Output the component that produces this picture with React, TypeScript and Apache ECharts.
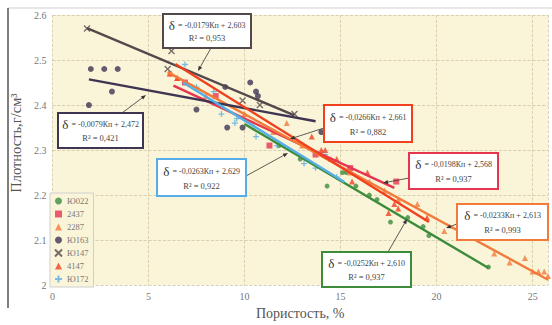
import React, { useEffect, useRef } from "react";
import * as echarts from "echarts";

// ---- data ----
const seriesNames = ["Ю022", "2437", "2287", "Ю163", "Ю147", "4147", "Ю172"];
const seriesColors = ["#3c8c3c", "#e8354f", "#f27a3a", "#3d3552", "#54484a", "#f0401e", "#55aee6"];

const pts022 = [[11.8,2.31],[12.9,2.28],[14.3,2.22],[15.1,2.25],[15.3,2.25],[15.8,2.22],[16.5,2.20],[16.9,2.19],[17.6,2.14],[18.5,2.15],[19.3,2.13],[19.6,2.11],[22.7,2.04]];
const pts2437 = [[6.9,2.45],[8.5,2.42],[11.3,2.31],[13.7,2.29],[15.5,2.26],[17.9,2.23]];
const pts2287 = [[6.2,2.47],[6.5,2.46],[8.0,2.42],[10.0,2.38],[11.5,2.34],[12.2,2.36],[13.0,2.31],[14.5,2.28],[15.5,2.25],[16.5,2.23],[17.3,2.21],[18.0,2.19],[19.0,2.18],[20.4,2.12],[21.5,2.11],[23.0,2.07],[23.8,2.05],[24.6,2.06],[25.0,2.03],[25.3,2.03],[25.6,2.03],[25.8,2.02]];
const pts163 = [[2.0,2.48],[2.7,2.48],[3.4,2.48],[3.1,2.43],[1.9,2.40],[7.5,2.39],[9.0,2.44],[10.3,2.45],[10.6,2.43],[10.7,2.42],[9.1,2.35],[9.9,2.35],[14.0,2.34]];
const pts147 = [[1.8,2.57],[6.2,2.52],[6.0,2.48],[9.9,2.41],[10.8,2.40],[12.6,2.38]];
const pts4147 = [[6.1,2.47],[6.5,2.46],[13.5,2.33],[14.0,2.30],[14.2,2.30],[14.8,2.28],[15.6,2.23],[16.4,2.25],[17.5,2.16],[17.8,2.18],[18.0,2.17],[19.5,2.15]];
const pts172 = [[6.9,2.49],[7.5,2.44],[8.4,2.43],[8.8,2.38],[9.5,2.36],[9.6,2.37],[10.6,2.33],[11.7,2.31],[13.1,2.27],[13.7,2.26],[14.2,2.29],[14.8,2.24]];
const seriesPoints = [pts022, pts2437, pts2287, pts163, pts147, pts4147, pts172];

// trend line end points
const trend022 = [[10.0,2.358],[22.7,2.038]];
const trend2437 = [[6.3,2.443],[17.8,2.216]];
const trend2287 = [[6.0,2.473],[25.8,2.012]];
const trend163 = [[1.9,2.457],[13.7,2.364]];
const trend147 = [[1.8,2.571],[12.6,2.377]];
const trend4147 = [[6.4,2.491],[19.6,2.140]];
const trend172 = [[6.8,2.450],[15.2,2.229]];
const trendLines = [trend022, trend2437, trend2287, trend163, trend147, trend4147, trend172];

const equations = [
  "= -0,0252Кп + 2,610", "= -0,0198Кп + 2,568", "= -0,0233Кп + 2,613",
  "= -0,0079Кп + 2,472", "= -0,0179Кп + 2,603", "= -0,0266Кп + 2,661", "= -0,0263Кп + 2,629",
];
const r2Labels = ["0,937", "0,937", "0,993", "0,421", "0,953", "0,882", "0,922"];

const xTicks = [0, 5, 10, 15, 20, 25];
const yTicks = [2, 2.1, 2.2, 2.3, 2.4, 2.5, 2.6];

// ---- layout of annotation boxes (pixels) ----
const boxes = [
  { i: 0, x: 322, y: 252, w: 89, h: 35, ax1: [388, 252], ax2: [407, 219] },
  { i: 1, x: 409, y: 153, w: 89, h: 36, ax1: [409, 178], ax2: [383, 183] },
  { i: 2, x: 457, y: 204, w: 91, h: 36, ax1: [457, 224], ax2: [446, 228] },
  { i: 3, x: 58, y: 113, w: 85, h: 35, ax1: [122, 113], ax2: [146, 95] },
  { i: 4, x: 163, y: 14, w: 88, h: 34, ax1: [211, 48], ax2: [198, 71] },
  { i: 5, x: 324, y: 105, w: 88, h: 37, ax1: [324, 128], ax2: [290, 139] },
  { i: 6, x: 157, y: 159, w: 89, h: 37, ax1: [246, 176], ax2: [288, 153] },
];

const SERIF = "'Liberation Serif', 'DejaVu Serif', serif";
const symbols = ["circle", "rect", "triangle", "circle", "path://M0,0L10,10M10,0L0,10", "triangle", "path://M5,0L5,10M0,5L10,5"];
const sizes = [5, 6, 6, 6, 6, 6, 6];

export default function App() {
  const ref = useRef<HTMLDivElement>(null);
  useEffect(() => {
    document.body.style.margin = "0";
    const chart = echarts.init(ref.current!, null, { renderer: "svg" });
    const scatter = seriesNames.map((name, k) => {
      const isStroke = k === 4 || k === 6;
      return {
        name,
        type: "scatter",
        data: seriesPoints[k],
        symbol: symbols[k],
        symbolSize: sizes[k],
        z: 3,
        itemStyle: isStroke
          ? { color: "transparent", borderColor: seriesColors[k], borderWidth: 1.3 }
          : { color: seriesColors[k] },
      };
    });
    const lines = trendLines.map((d, k) => ({
      name: seriesNames[k] + " trend",
      type: "line",
      data: d,
      showSymbol: false,
      z: 4,
      lineStyle: { color: seriesColors[k], width: 2.4 },
      silent: true,
    }));
    const graphics: any[] = [
      { type: "line", shape: { x1: 8, y1: 8, x2: 552, y2: 8 }, style: { stroke: "#cfcfcf", lineWidth: 1 } },
      { type: "line", shape: { x1: 8, y1: 8, x2: 8, y2: 308 }, style: { stroke: "#555", lineWidth: 1.5 } },
    ];
    boxes.forEach((b) => {
      const c = seriesColors[b.i];
      const dx = b.ax2[0] - b.ax1[0];
      const dy = b.ax2[1] - b.ax1[1];
      const len = Math.sqrt(dx * dx + dy * dy);
      const ux = dx / len, uy = dy / len;
      const hx = b.ax2[0] - ux * 5, hy = b.ax2[1] - uy * 5;
      graphics.push({
        type: "line", z: 10,
        shape: { x1: b.ax1[0], y1: b.ax1[1], x2: hx, y2: hy },
        style: { stroke: "#333", lineWidth: 0.8 },
      });
      graphics.push({
        type: "polygon", z: 10,
        shape: { points: [[b.ax2[0], b.ax2[1]], [hx - uy * 2, hy + ux * 2], [hx + uy * 2, hy - ux * 2]] },
        style: { fill: "#333" },
      });
      graphics.push({
        type: "rect", z: 11,
        shape: { x: b.x, y: b.y, width: b.w, height: b.h },
        style: { fill: "#ffffff", stroke: c, lineWidth: 2 },
      });
      graphics.push({
        type: "text", z: 12,
        x: b.x + b.w / 2, y: b.y + b.h * 0.33,
        style: {
          text: "{d|δ} {t|" + equations[b.i] + "}",
          align: "center", verticalAlign: "middle",
          rich: {
            d: { fontSize: 13, fontFamily: SERIF, fill: "#333" },
            t: { fontSize: 8, fontFamily: SERIF, fill: "#444" },
          },
        },
      });
      graphics.push({
        type: "text", z: 12,
        x: b.x + b.w / 2, y: b.y + b.h * 0.72,
        style: {
          text: "R² = " + r2Labels[b.i],
          align: "center", verticalAlign: "middle",
          fontSize: 8.5, fontFamily: SERIF, fill: "#444",
        },
      });
    });
    chart.setOption({
      animation: false,
      backgroundColor: "#ffffff",
      grid: { left: 45, right: 4, top: 15, bottom: 35, show: true, backgroundColor: "#faf5d9", borderWidth: 0 },
      legend: {
        data: seriesNames.map((name, k) => ({ name, icon: symbols[k] })),
        orient: "vertical",
        left: 50, top: 193,
        itemWidth: 7, itemHeight: 7, itemGap: 3,
        padding: [3, 5, 3, 4],
        borderColor: "#cfcfcf", borderWidth: 1,
        backgroundColor: "#faf5d9",
        textStyle: { fontSize: 8.5, fontFamily: SERIF, color: "#777", lineHeight: 10 },
      },
      xAxis: {
        type: "value", min: 0, max: 25.8, interval: 5,
        name: "Пористость, %", nameLocation: "middle", nameGap: 16,
        nameTextStyle: { fontSize: 14, fontFamily: SERIF, color: "#555" },
        axisLine: { show: false }, axisTick: { show: false },
        axisLabel: {
          showMaxLabel: false, fontSize: 10, fontFamily: SERIF, color: "#777", margin: 6,
          formatter: (v: number) => (xTicks.includes(v) ? String(v) : ""),
        },
        splitLine: { show: true, lineStyle: { color: "#cfc6a6", type: "dashed", width: 0.8 } },
      },
      yAxis: {
        type: "value", min: 2, max: 2.6, interval: 0.1,
        name: "Плотность,г/см³", nameLocation: "middle", nameGap: 23, nameRotate: 90,
        nameTextStyle: { fontSize: 14.5, fontFamily: SERIF, color: "#555", padding: [0, 0, 0, 14] },
        axisLine: { show: false }, axisTick: { show: false },
        axisLabel: {
          fontSize: 10, fontFamily: SERIF, color: "#777", margin: 6,
          formatter: (v: number) => {
            const r = Number(v.toFixed(1));
            return yTicks.includes(r) ? String(r) : "";
          },
        },
        splitLine: { show: true, lineStyle: { color: "#cfc6a6", type: "dashed", width: 0.8 } },
      },
      series: [...scatter, ...lines],
      graphic: graphics,
    });
    return () => chart.dispose();
  }, []);
  return <div ref={ref} style={{ width: 552, height: 325 }} />;
}
